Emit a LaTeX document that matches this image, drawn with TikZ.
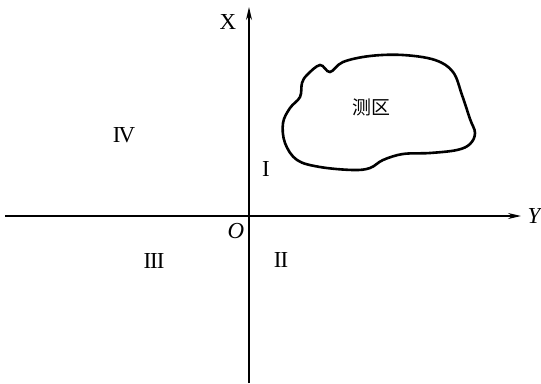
\documentclass[tikz,border=0pt]{standalone}
\usepackage{fontspec}
\setmainfont{Liberation Serif}
\newfontfamily\cjk{Noto Sans CJK SC}
\usetikzlibrary{arrows.meta}

\begin{document}
\begin{tikzpicture}[x=1bp, y=-1bp,
		axis/.style={line width=1.4bp, -{Stealth[length=13bp, width=6bp]}},
		numeral/.style={font=\fontsize{23}{25}\selectfont, inner sep=0pt},
		axislabel/.style={font=\fontsize{23}{25}\selectfont, inner sep=0pt}]
		\useasboundingbox (0,0) rectangle (541,383);

		% axes: X points up, Y points to the right
		\coordinate (o) at (249,216);
		\coordinate (xtop) at (249,7);
		\coordinate (xbot) at (249,383);
		\coordinate (yleft) at (5,216);
		\coordinate (yright) at (521,216);
		\draw [axis] (xbot) -- (xtop);
		\draw [axis] (yleft) -- (yright);

		\node [axislabel] (xlab) at (228,22) {X};
		\node [axislabel] (ylab) at (534,216) {\itshape Y};
		\node [axislabel] (olab) at (236,231) {\itshape O};

		% quadrant numbers
		\node [numeral] (q1) at (266,169) {I};
		\node [numeral] (q2) at (281,260) {I\kern-1bp I};
		\node [numeral] (q3) at (154,261) {I\kern-1bp I\kern-1bp I};
		\node [numeral] (q4) at (124,135) {I\kern-2bp V};

		% survey area outline
		\draw [line width=2.6bp] plot [smooth cycle, tension=0.6] coordinates {(307,75) (320,65) (330,72) (343,62) (370,56) (403,55) (435,60) (453,72) (462,95) (470,119) (475,133) (470,144) (457,150) (430,153) (403,154) (383,160) (370,168) (353,170) (320,167) (297,160) (285,143) (283,123) (290,108) (300,97) (302,83)};
		\node [font=\cjk\fontsize{19}{21}\selectfont, inner sep=0pt] (area) at (371,107) {测区};
	\end{tikzpicture}
\end{document}
